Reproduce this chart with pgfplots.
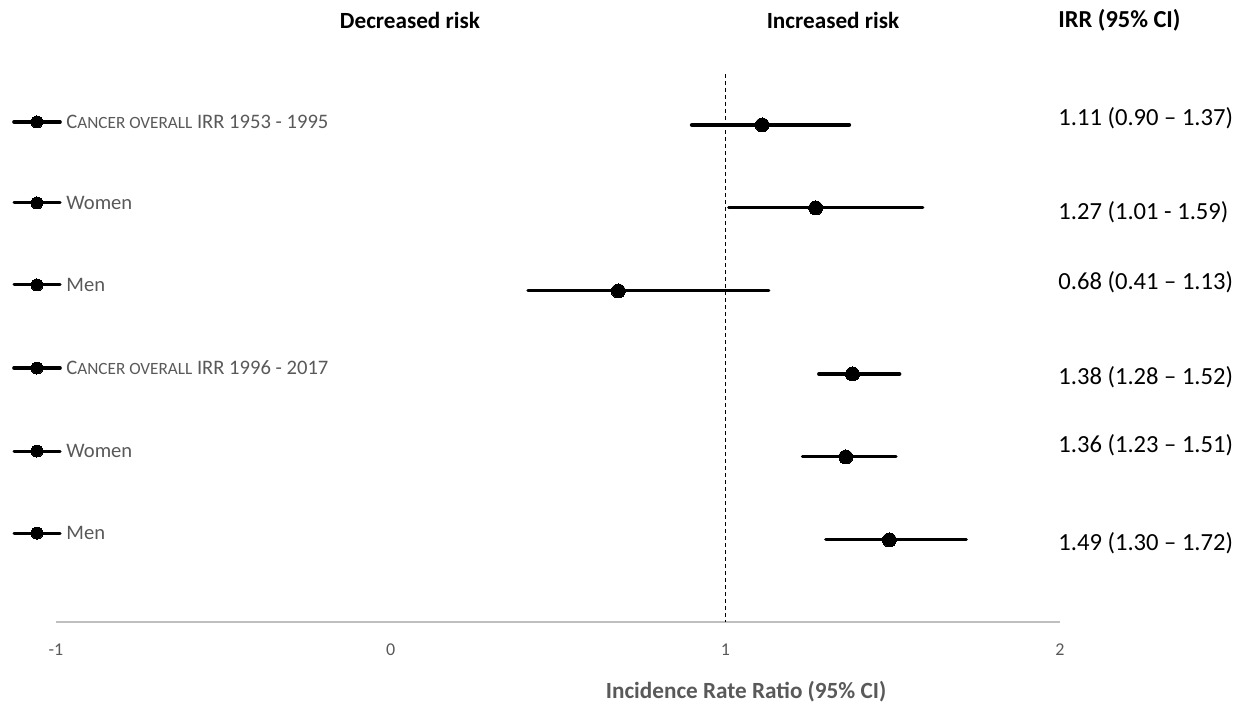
\documentclass[border=0pt]{standalone}
\usepackage{fontspec}
\setmainfont{Carlito}
\usepackage{pgfplots}
\pgfplotsset{compat=1.18}
\definecolor{txtgray}{HTML}{595959}
\definecolor{axgray}{HTML}{BFBFBF}
\newcommand{\fsc}[1]{{\fontsize{8.6pt}{9pt}\selectfont #1}}
\begin{document}
\begin{tikzpicture}
\begin{axis}[at={(28pt,42.5pt)}, anchor=south west, scale only axis,
  width=502pt, height=274pt,
  xmin=-1, xmax=2, ymin=-6.988, ymax=-0.386,
  clip=false,
  axis y line=none, axis x line*=bottom,
  x axis line style={draw=axgray, line width=0.75pt, -},
  xtick={-1,0,1,2}, major tick length=0pt,
  /pgf/number format/assume math mode=true,
  xticklabel style={font=\fontsize{9}{10}\selectfont, text=txtgray, yshift=-7.5pt},
  every axis plot/.append style={line cap=round, mark indices={2},
     mark options={solid, line width=0pt, fill=black}},
]
% vertical reference line
\addplot[black, line width=0.75pt, dash pattern=on 2pt off 1.5pt, line cap=butt] coordinates {(1,-0.386) (1,-6.988)};
% estimates with CI
\addplot[black, line width=2pt, mark=*, mark size=3.5pt] coordinates {(0.90,-1) (1.11,-1) (1.37,-1)};
\addplot[black, line width=1.5pt, mark=*, mark size=3.5pt] coordinates {(1.01,-2) (1.27,-2) (1.59,-2)};
\addplot[black, line width=1.5pt, mark=*, mark size=3.5pt] coordinates {(0.41,-3) (0.68,-3) (1.13,-3)};
\addplot[black, line width=2pt, mark=*, mark size=3.5pt] coordinates {(1.28,-4) (1.38,-4) (1.52,-4)};
\addplot[black, line width=1.5pt, mark=*, mark size=3.5pt] coordinates {(1.23,-5) (1.36,-5) (1.51,-5)};
\addplot[black, line width=1.5pt, mark=*, mark size=3.5pt] coordinates {(1.30,-6) (1.49,-6) (1.72,-6)};
% legend-like keys
\addplot[black, line width=1.8pt, mark=*, mark size=3pt] coordinates {(-1.1255,-0.964) (-1.057,-0.964) (-0.988,-0.964)};
\addplot[black, line width=1.5pt, mark=*, mark size=3pt] coordinates {(-1.1255,-1.940) (-1.057,-1.940) (-0.988,-1.940)};
\addplot[black, line width=1.5pt, mark=*, mark size=3pt] coordinates {(-1.1255,-2.928) (-1.057,-2.928) (-0.988,-2.928)};
\addplot[black, line width=1.8pt, mark=*, mark size=3pt] coordinates {(-1.1255,-3.928) (-1.057,-3.928) (-0.988,-3.928)};
\addplot[black, line width=1.5pt, mark=*, mark size=3pt] coordinates {(-1.1255,-4.928) (-1.057,-4.928) (-0.988,-4.928)};
\addplot[black, line width=1.5pt, mark=*, mark size=3pt] coordinates {(-1.1255,-5.916) (-1.057,-5.916) (-0.988,-5.916)};
% key labels
\begin{scope}[every node/.style={anchor=west, text=txtgray, font=\fontsize{10.3}{12}\selectfont, inner sep=0pt}]
\node at (axis cs:-0.970,-0.964) {C\fsc{ANCER OVERALL} IRR 1953 - 1995};
\node at (axis cs:-0.970,-1.940) {Women};
\node at (axis cs:-0.970,-2.928) {Men};
\node at (axis cs:-0.970,-3.928) {C\fsc{ANCER OVERALL} IRR 1996 - 2017};
\node at (axis cs:-0.970,-4.928) {Women};
\node at (axis cs:-0.970,-5.916) {Men};
\end{scope}
% right column
\begin{scope}[every node/.style={anchor=west, text=black, font=\fontsize{12.3}{14}\selectfont, inner sep=0pt}]
\node at (axis cs:1.994,-0.916) {1.11 (0.90 – 1.37)};
\node at (axis cs:1.994,-2.048) {1.27 (1.01 - 1.59)};
\node at (axis cs:1.994,-2.892) {0.68 (0.41 – 1.13)};
\node at (axis cs:1.994,-4.036) {1.38 (1.28 – 1.52)};
\node at (axis cs:1.994,-4.855) {1.36 (1.23 – 1.51)};
\node at (axis cs:1.994,-6.036) {1.49 (1.30 – 1.72)};
\node[font=\fontsize{12.2}{14}\selectfont\bfseries] at (axis cs:1.994,0.265) {IRR (95\% CI)};
\end{scope}
% headers
\node[font=\fontsize{11.6}{14}\selectfont\bfseries, inner sep=0pt] at (axis cs:0.0578,0.265) {Decreased risk};
\node[font=\fontsize{11.6}{14}\selectfont\bfseries, inner sep=0pt] at (axis cs:1.3217,0.265) {Increased risk};
% axis title
\node[font=\fontsize{11.6}{14}\selectfont\bfseries, text=txtgray, inner sep=0pt] at (axis cs:1.062,-7.83) {Incidence Rate Ratio (95\% CI)};
\end{axis}
\pgfresetboundingbox
\useasboundingbox (0,0) rectangle (620.5pt,353.5pt);
\end{tikzpicture}
\end{document}
